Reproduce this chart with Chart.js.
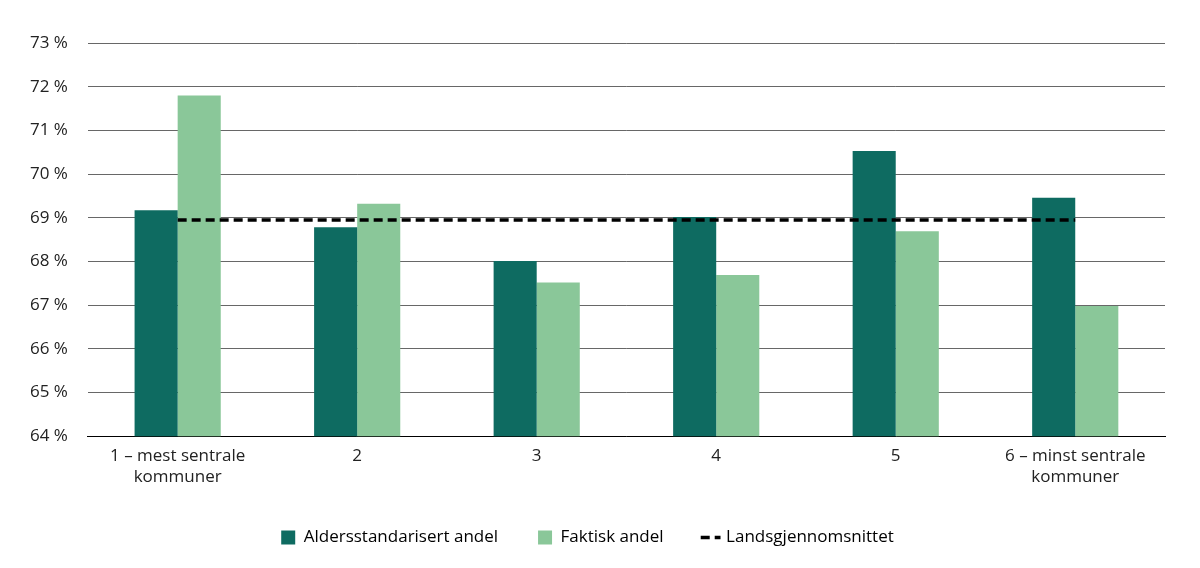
<!DOCTYPE html>
<html><head><meta charset="utf-8">
<script src="https://cdn.jsdelivr.net/npm/chart.js@4"></script>
<style>html,body{margin:0;background:#fff}#w{width:1200px;height:568px}</style>
</head><body><div id="w"><canvas id="c"></canvas></div>
<script>
const categories=[["1 – mest sentrale","kommuner"],"2","3","4","5",["6 – minst sentrale","kommuner"]];
const aldersstandardisert=[69.17,68.78,68.01,69.02,70.53,69.46];
const faktisk=[71.8,69.32,67.52,67.69,68.69,66.98];
const landsgjennomsnitt=[68.95,68.95,68.95,68.95,68.95,68.95];
const font={family:"'Open Sans'",size:17};
new Chart(document.getElementById('c'),{
 data:{labels:categories,datasets:[
  {type:'bar',label:'Aldersstandarisert andel',data:aldersstandardisert,backgroundColor:'#0e6b61',order:2},
  {type:'bar',label:'Faktisk andel',data:faktisk,backgroundColor:'#8ac799',order:2},
  {type:'line',label:'Landsgjennomsnittet',data:landsgjennomsnitt,borderColor:'#000',borderWidth:3.5,borderDash:[9,5],pointRadius:0,order:1,backgroundColor:'#000'}
 ]},
 options:{responsive:true,maintainAspectRatio:false,animation:false,
  layout:{padding:{left:10,right:35,top:43,bottom:12}},
  datasets:{bar:{categoryPercentage:0.48,barPercentage:1}},
  plugins:{legend:{position:'bottom',labels:{font,color:'#222',boxWidth:14,boxHeight:14,padding:40,
    generateLabels(ch){return ch.data.datasets.map((d,i)=>({text:d.label,fillStyle:d.type==='line'?'rgba(0,0,0,0)':d.backgroundColor,strokeStyle:d.type==='line'?'#000':d.backgroundColor,lineWidth:d.type==='line'?3.5:0,lineDash:d.type==='line'?[9,5]:[],datasetIndex:i,pointStyle:d.type==='line'?'line':'rect'}))},
    usePointStyle:true}},tooltip:{enabled:false}},
  scales:{
   x:{grid:{display:false},border:{color:'#000'},ticks:{font,color:'#222',maxRotation:0,padding:2}},
   y:{min:64,max:73,border:{display:false},grid:{color:'#000',lineWidth:0.6,drawTicks:false},
      ticks:{stepSize:1,padding:20,font,color:'#222',callback:v=>v+' %'}}
  }}
});
</script></body></html>
